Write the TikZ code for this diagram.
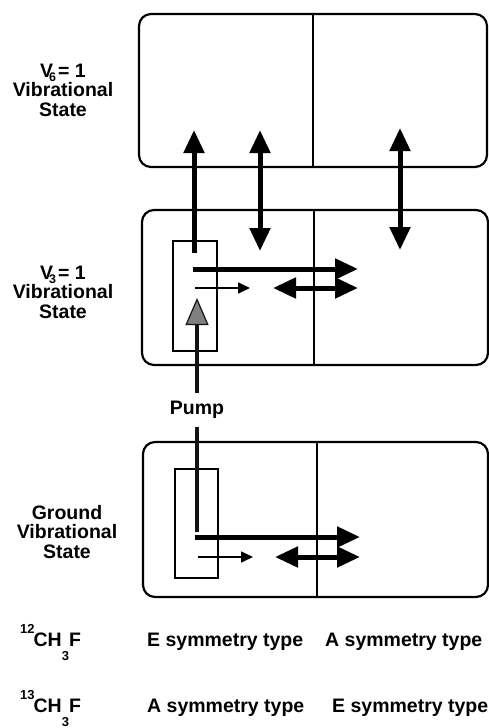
\documentclass[tikz,border=0pt]{standalone}
\usepackage{fontspec}
\setmainfont{Liberation Sans}
\usetikzlibrary{arrows.meta}
\begin{document}
\begin{tikzpicture}[x=1pt,y=-1pt,
  lab/.style={font=\fontsize{19.5}{19.5}\selectfont\bfseries, align=center, inner sep=0pt},
  txt/.style={font=\fontsize{19.5}{19}\selectfont\bfseries, inner sep=0pt, anchor=base west},
  statebox/.style={draw, line width=2.2pt, rounded corners=12pt, inner sep=0pt, outer sep=0pt},
  divider/.style={line width=1.5pt},
  inbox/.style={draw, line width=1.8pt, inner sep=0pt, outer sep=0pt},
  bigarrow/.style={line width=5pt, -{Triangle[length=23pt,width=20pt]}},
  bigdouble/.style={line width=5pt, {Triangle[length=23pt,width=20pt]}-{Triangle[length=23pt,width=20pt]}},
  thinarrow/.style={line width=1.6pt, -{Triangle[length=12pt,width=11pt]}},
  pumparrow/.style={line width=4.5pt, draw=black!92, -{Triangle[length=27pt,width=23pt,fill=black!50,line width=1.2pt]}},
]
\useasboundingbox (0,0) rectangle (489,728);

% state boxes
\node[statebox, minimum width=348pt, minimum height=153pt] (top) at (313,90.5) {};
\node[statebox, minimum width=346pt, minimum height=155pt] (mid) at (315,287.5) {};
\node[statebox, minimum width=345pt, minimum height=155pt] (bot) at (315.5,519.5) {};
\draw[divider] (313,14) -- (313,167);
\draw[divider] (314,210) -- (314,365);
\draw[divider] (317,442) -- (317,597);

% inner boxes
\node[inbox, minimum width=44pt, minimum height=110pt] (midin) at (195,296) {};
\node[inbox, minimum width=43pt, minimum height=109pt] (botin) at (196.5,523.5) {};

% arrow end points
\coordinate (a1s) at (194,253);  \coordinate (a1e) at (194,130);
\coordinate (a2s) at (260,130);  \coordinate (a2e) at (260,251);
\coordinate (a3s) at (400,128);  \coordinate (a3e) at (400,250);
\coordinate (h1s) at (193,269);  \coordinate (h1e) at (358,269);
\coordinate (t1s) at (195,288);  \coordinate (t1e) at (250,288);
\coordinate (d1s) at (273,288);  \coordinate (d1e) at (358,288);
\coordinate (ps)  at (197,532);  \coordinate (pe)  at (197,298);
\coordinate (h2s) at (195,537);  \coordinate (h2e) at (360,537);
\coordinate (t2s) at (198,557);  \coordinate (t2e) at (253,557);
\coordinate (d2s) at (275,557);  \coordinate (d2e) at (360,557);

\draw[bigarrow] (a1s) -- (a1e);
\draw[bigdouble] (a2s) -- (a2e);
\draw[bigdouble] (a3s) -- (a3e);
\draw[bigarrow] (h1s) -- (h1e);
\draw[thinarrow] (t1s) -- (t1e);
\draw[bigdouble] (d1s) -- (d1e);
\draw[pumparrow] (ps) -- (pe);
\draw[bigarrow] (h2s) -- (h2e);
\draw[thinarrow] (t2s) -- (t2e);
\draw[bigdouble] (d2s) -- (d2e);

\node[font=\fontsize{19.5}{19}\selectfont\bfseries, fill=white, inner xsep=2pt, inner ysep=8pt] (pump) at (197,410) {Pump};

% state labels
\node[lab] (v6) at (63,90) {V\kern-4pt\raisebox{-4pt}{\fontsize{12.5}{12.5}\selectfont 6}\kern2pt = 1\\Vibrational\\State};
\node[lab] (v3) at (63,292) {V\kern-4pt\raisebox{-4pt}{\fontsize{12.5}{12.5}\selectfont 3}\kern2pt = 1\\Vibrational\\State};
\node[lab] (gr) at (67,532) {Ground\\Vibrational\\State};

% bottom rows
\node[txt] (m12) at (20,646) {\raisebox{13pt}{\fontsize{13}{13}\selectfont 12}\kern-1pt CH\raisebox{-14pt}{\fontsize{13}{13}\selectfont 3}F};
\node[txt] (e1) at (147,646) {E symmetry type};
\node[txt] (a1) at (325,646) {A symmetry type};
\node[txt] (m13) at (20,712) {\raisebox{13pt}{\fontsize{13}{13}\selectfont 13}\kern-1pt CH\raisebox{-14pt}{\fontsize{13}{13}\selectfont 3}F};
\node[txt] (a2) at (147,712) {A symmetry type};
\node[txt] (e2) at (332,712) {E symmetry type};
\end{tikzpicture}
\end{document}
